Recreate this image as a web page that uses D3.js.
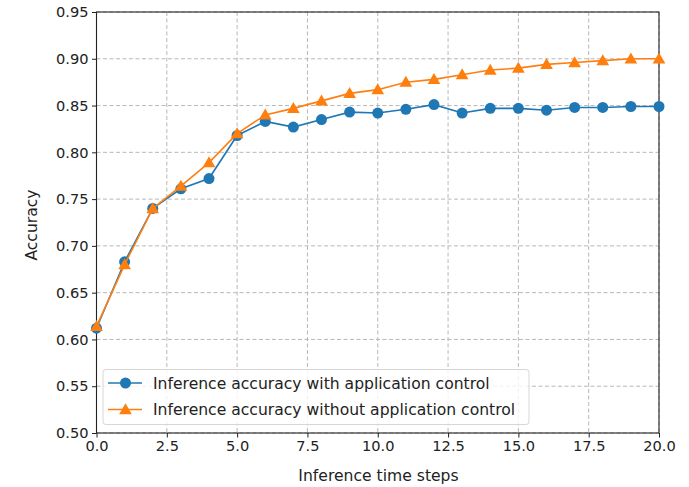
<!DOCTYPE html>
<html><head><meta charset="utf-8">
<script src="https://cdn.jsdelivr.net/npm/d3@7"></script>
<style>
html,body{margin:0;padding:0;background:#fff;}
svg{display:block;font-family:"DejaVu Sans",sans-serif;}
</style></head>
<body>
<svg id="chart" width="689" height="487"></svg>
<script>
const steps = [0,1,2,3,4,5,6,7,8,9,10,11,12,13,14,15,16,17,18,19,20];
const withControl = [0.612,0.683,0.740,0.761,0.772,0.818,0.833,0.827,0.835,0.843,0.842,0.846,0.851,0.842,0.847,0.847,0.845,0.848,0.848,0.849,0.849];
const withoutControl = [0.614,0.680,0.740,0.764,0.789,0.820,0.840,0.847,0.855,0.863,0.867,0.875,0.878,0.883,0.888,0.890,0.894,0.896,0.898,0.900,0.900];
const xTicks = [0,2.5,5,7.5,10,12.5,15,17.5,20];
const yTicks = [0.50,0.55,0.60,0.65,0.70,0.75,0.80,0.85,0.90,0.95];
const seriesNames = ["Inference accuracy with application control","Inference accuracy without application control"];
const colors = ["#1f77b4","#ff7f0e"];

const svg = d3.select("#chart");
const m = {left:96.5, right:659, top:12, bottom:433};
const x = d3.scaleLinear().domain([0,20]).range([m.left,m.right]);
const y = d3.scaleLinear().domain([0.5,0.95]).range([m.bottom,m.top]);
const textColor = "#222";

// grid
const grid = svg.append("g");
grid.selectAll("line.gx").data(xTicks).join("line")
  .attr("x1",d=>x(d)).attr("x2",d=>x(d)).attr("y1",m.top).attr("y2",m.bottom)
  .attr("stroke","#b0b0b0").attr("stroke-width",0.9).attr("stroke-dasharray","4,2.5");
grid.selectAll("line.gy").data(yTicks).join("line")
  .attr("y1",d=>y(d)).attr("y2",d=>y(d)).attr("x1",m.left).attr("x2",m.right)
  .attr("stroke","#b0b0b0").attr("stroke-width",0.9).attr("stroke-dasharray","4,2.5");

// axes
const xAxis = d3.axisBottom(x).tickValues(xTicks).tickFormat(d3.format(".1f")).tickSize(4.5).tickPadding(3.5);
const yAxis = d3.axisLeft(y).tickValues(yTicks).tickFormat(d3.format(".2f")).tickSize(4.5).tickPadding(3.5);
const gx = svg.append("g").attr("transform",`translate(0,${m.bottom})`).call(xAxis);
const gy = svg.append("g").attr("transform",`translate(${m.left},0)`).call(yAxis);
[gx,gy].forEach(g=>{
  g.select(".domain").remove();
  g.selectAll(".tick line").attr("stroke",textColor).attr("stroke-width",1);
  g.selectAll(".tick text").attr("fill",textColor).style("font-size","14.6px").style("font-family","DejaVu Sans");
});

// frame
svg.append("rect").attr("x",m.left).attr("y",m.top).attr("width",m.right-m.left).attr("height",m.bottom-m.top)
  .attr("fill","none").attr("stroke",textColor).attr("stroke-width",1.1);

// labels
svg.append("text").attr("x",378.5).attr("y",481).attr("text-anchor","middle")
  .attr("fill",textColor).style("font-size","15.6px").text("Inference time steps");
svg.append("text").attr("transform",`translate(37,${225}) rotate(-90)`).attr("text-anchor","middle")
  .attr("fill",textColor).style("font-size","15.6px").text("Accuracy");

// series
const plot = svg.append("g");
const line = d3.line().x((d,i)=>x(steps[i])).y(d=>y(d));
const tri = d3.symbol().type(d3.symbolTriangle).size(70);
const data = [withControl, withoutControl];
data.forEach((vals,k)=>{
  plot.append("path").datum(vals).attr("d",line).attr("fill","none")
    .attr("stroke",colors[k]).attr("stroke-width",1.6);
  if(k===0){
    plot.selectAll("circle.s0").data(vals).join("circle")
      .attr("cx",(d,i)=>x(steps[i])).attr("cy",d=>y(d)).attr("r",5.5).attr("fill",colors[0]);
  } else {
    plot.selectAll("path.s1").data(vals).join("path").attr("class","s1")
      .attr("transform",(d,i)=>`translate(${x(steps[i])},${y(d)+1})`).attr("d",tri).attr("fill",colors[1]);
  }
});

// legend
const lg = svg.append("g");
lg.append("rect").attr("x",103).attr("y",369.5).attr("width",426).attr("height",55).attr("rx",3)
  .attr("fill","rgba(255,255,255,0.8)").attr("stroke","#d6d6d6").attr("stroke-width",1);
seriesNames.forEach((name,k)=>{
  const cy = 383 + k*26.5;
  lg.append("line").attr("x1",108).attr("x2",142).attr("y1",cy).attr("y2",cy).attr("stroke",colors[k]).attr("stroke-width",1.6);
  if(k===0) lg.append("circle").attr("cx",125.5).attr("cy",cy).attr("r",5.5).attr("fill",colors[0]);
  else lg.append("path").attr("transform",`translate(125.5,${cy+1})`).attr("d",tri).attr("fill",colors[1]);
  lg.append("text").attr("x",153).attr("y",cy+5.5).attr("fill",textColor).style("font-size","15.6px").text(name);
});
</script>
</body></html>
